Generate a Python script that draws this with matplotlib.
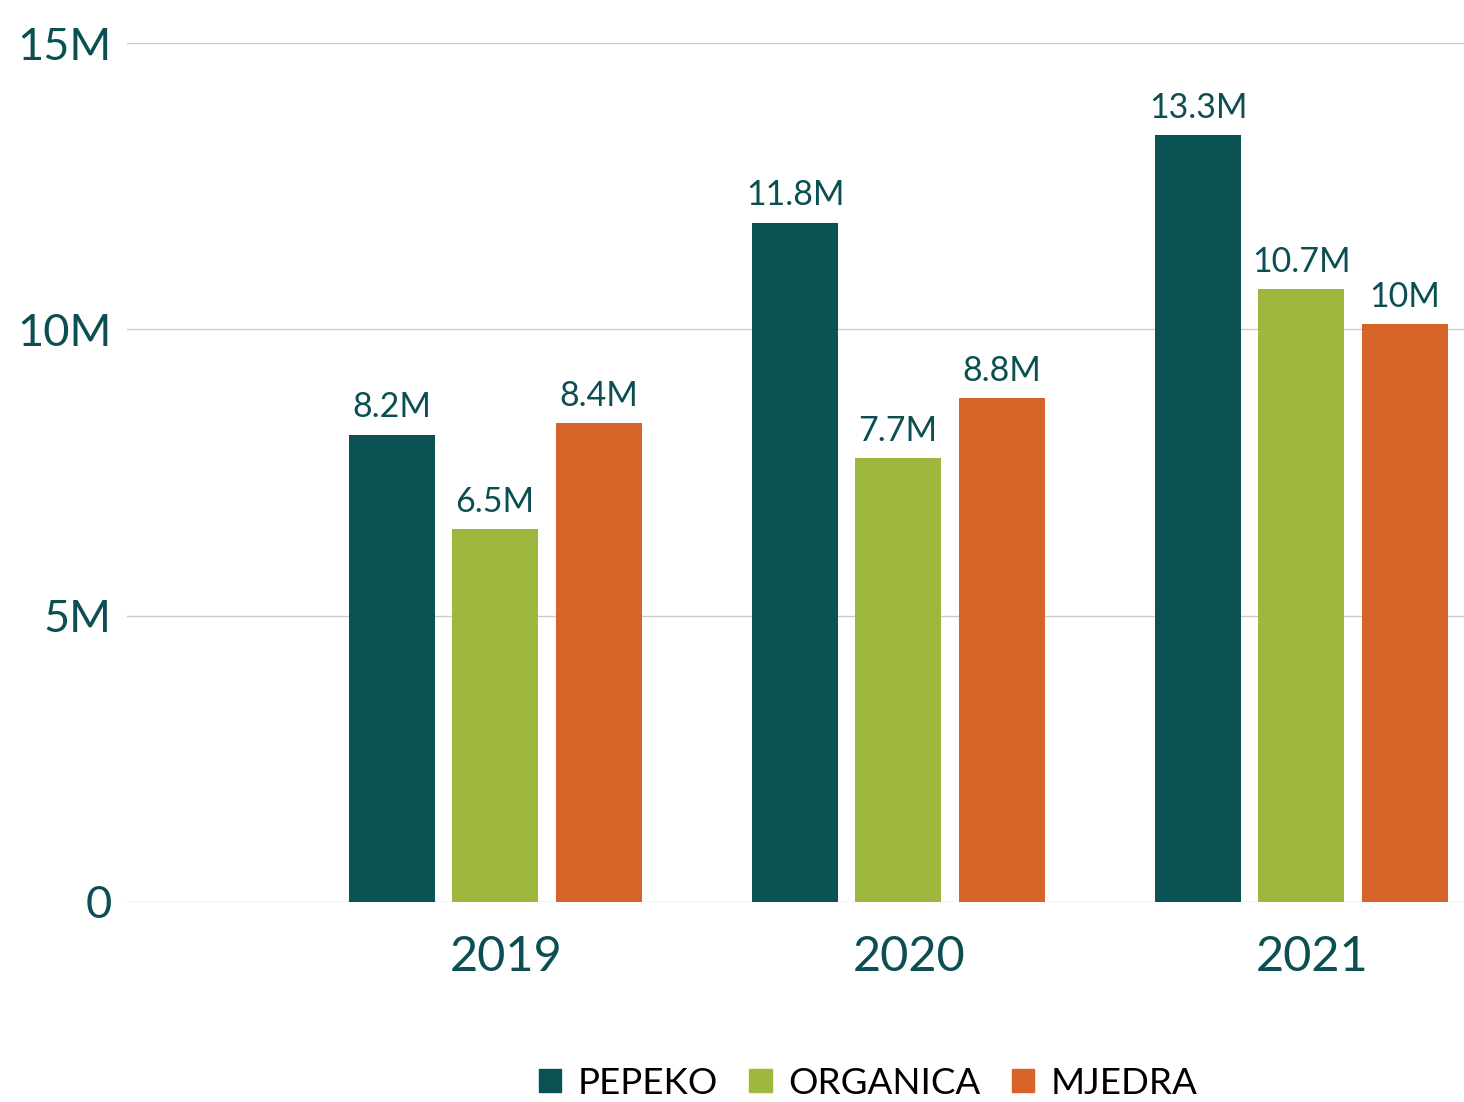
import matplotlib.pyplot as plt
import numpy as np
from matplotlib.patches import Patch

plt.rcParams['font.family'] = ['Lato', 'DejaVu Sans']

years = ["2019", "2020", "2021"]
series = ["PEPEKO", "ORGANICA", "MJEDRA"]
pepeko = [8.16, 11.86, 13.39]
organica = [6.51, 7.75, 10.70]
mjedra = [8.36, 8.80, 10.09]
value_labels = [["8.2M", "11.8M", "13.3M"],
                ["6.5M", "7.7M", "10.7M"],
                ["8.4M", "8.8M", "10M"]]
colors = ["#0a5254", "#9eb83f", "#d66428"]
text_color = "#0b4f52"

fig = plt.figure(figsize=(14.64, 11.02), dpi=100)
ax = fig.add_axes([127 / 1464, 1 - 902 / 1102, 1 - 127 / 1464, (902 - 43) / 1102])

x = np.arange(len(years))
width = 0.2134
offsets = [-0.2556, 0.0, 0.258]
for vals, labs, off, col, name in zip([pepeko, organica, mjedra], value_labels, offsets, colors, series):
    ax.bar(x + off, vals, width=width, color=col, label=name, zorder=3)
    for xi, v, t in zip(x, vals, labs):
        ax.annotate(t, (xi + off, v), xytext=(0, 12.5), textcoords="offset points",
                    ha="center", va="baseline", fontsize=24.5, color=text_color)

ax.set_xlim(-0.913, 2.404)
ax.set_ylim(0, 15)
ax.set_yticks([0, 5, 10, 15])
ax.set_yticklabels(["0", "5M", "10M", "15M"])
ax.set_xticks(x + 0.027)
ax.set_xticklabels(years)
ax.tick_params(axis="y", length=0, pad=11, labelsize=32.5, labelcolor=text_color)
ax.tick_params(axis="x", length=0, pad=24, labelsize=35, labelcolor=text_color)
ax.grid(axis="y", color="#cccccc", linewidth=1, zorder=0)
for s in ax.spines.values():
    s.set_visible(False)

handles = [Patch(color=c, label=n) for c, n in zip(colors, series)]
fig.legend(handles=handles, loc="lower center", bbox_to_anchor=(0.593, -0.028), ncol=3,
           frameon=False, fontsize=26.5, handlelength=0.6, handleheight=0.6,
           handletextpad=0.45, columnspacing=0.85)

fig.savefig("out.png", dpi=100)
